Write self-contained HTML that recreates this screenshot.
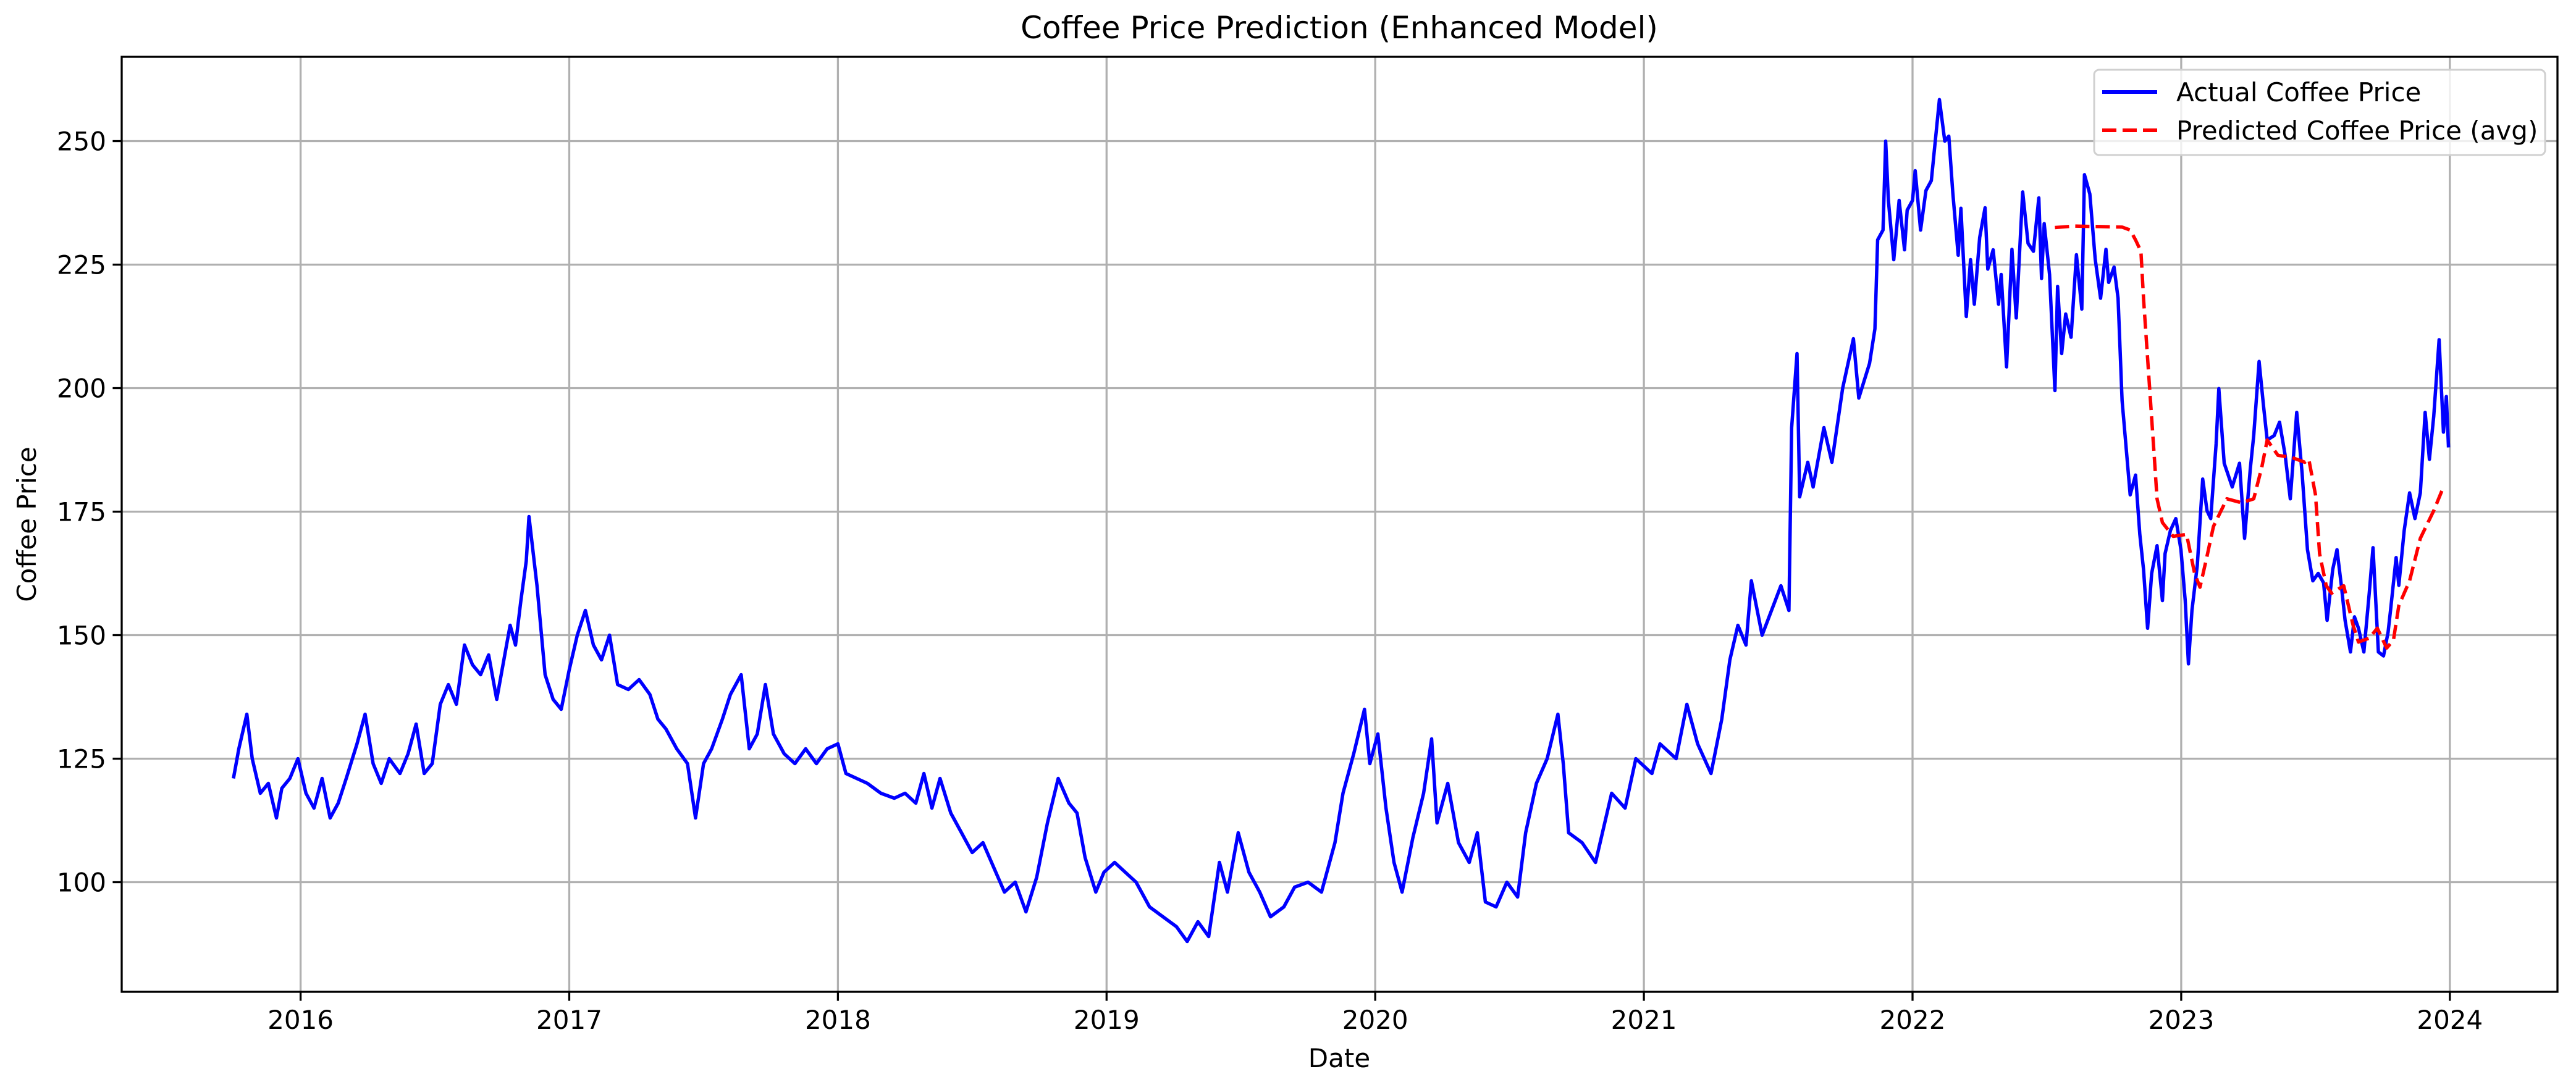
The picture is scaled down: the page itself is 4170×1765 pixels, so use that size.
<!DOCTYPE html>
<html><head><meta charset="utf-8"><style>
html,body{margin:0;padding:0;background:#fff;}
svg{display:block;font-family:"DejaVu Sans","Liberation Sans",sans-serif;}
</style></head><body>
<svg id="chart" width="4170" height="1765" viewBox="0 0 4170 1765" xmlns="http://www.w3.org/2000/svg">
<rect x="0" y="0" width="4170" height="1765" fill="#fff"/>
<g id="grid"></g>
<g id="series"></g>
<g id="axes"></g>
<text x="2168" y="62" font-size="50" text-anchor="middle">Coffee Price Prediction (Enhanced Model)</text>
<text x="2168" y="1728" font-size="42" text-anchor="middle">Date</text>
<text x="58" y="849" font-size="42" text-anchor="middle" transform="rotate(-90 58 849)">Coffee Price</text>
<g>
<rect x="3390" y="113" width="730" height="138" rx="8" fill="#fff" fill-opacity="0.8" stroke="#d0d0d0" stroke-width="3"/>
<line x1="3403" y1="149" x2="3492" y2="149" stroke="#0000ff" stroke-width="6"/>
<text x="3523" y="164" font-size="42">Actual Coffee Price</text>
<line x1="3403" y1="211" x2="3492" y2="211" stroke="#ff0000" stroke-width="6" stroke-dasharray="23,10"/>
<text x="3523" y="226" font-size="42">Predicted Coffee Price (avg)</text>
</g>
</svg>
<script>
const xTickLabels = ["2016","2017","2018","2019","2020","2021","2022","2023","2024"];
const xTickYears = [2016,2017,2018,2019,2020,2021,2022,2023,2024];
const yTickValues = [100,125,150,175,200,225,250];
const actualYears = [2015.75,2015.77,2015.80,2015.82,2015.85,2015.88,2015.91,2015.93,2015.96,2015.99,2016.02,2016.05,2016.08,2016.11,2016.14,2016.17,2016.21,2016.24,2016.27,2016.30,2016.33,2016.37,2016.40,2016.43,2016.46,2016.49,2016.52,2016.55,2016.58,2016.61,2016.64,2016.67,2016.70,2016.73,2016.76,2016.78,2016.80,2016.82,2016.84,2016.85,2016.88,2016.91,2016.94,2016.97,2017.00,2017.03,2017.06,2017.09,2017.12,2017.15,2017.18,2017.22,2017.26,2017.30,2017.33,2017.36,2017.40,2017.44,2017.47,2017.50,2017.53,2017.57,2017.60,2017.64,2017.67,2017.70,2017.73,2017.76,2017.80,2017.84,2017.88,2017.92,2017.96,2018.00,2018.03,2018.07,2018.11,2018.16,2018.21,2018.25,2018.29,2018.32,2018.35,2018.38,2018.42,2018.46,2018.50,2018.54,2018.58,2018.62,2018.66,2018.70,2018.74,2018.78,2018.82,2018.86,2018.89,2018.92,2018.96,2018.99,2019.03,2019.07,2019.11,2019.16,2019.21,2019.26,2019.30,2019.34,2019.38,2019.42,2019.45,2019.49,2019.53,2019.57,2019.61,2019.66,2019.70,2019.75,2019.80,2019.85,2019.88,2019.92,2019.96,2019.98,2020.01,2020.04,2020.07,2020.10,2020.14,2020.18,2020.21,2020.23,2020.27,2020.31,2020.35,2020.38,2020.41,2020.45,2020.49,2020.53,2020.56,2020.60,2020.64,2020.68,2020.70,2020.72,2020.77,2020.82,2020.88,2020.93,2020.97,2021.03,2021.06,2021.12,2021.16,2021.20,2021.25,2021.29,2021.32,2021.35,2021.38,2021.40,2021.44,2021.51,2021.54,2021.55,2021.57,2021.58,2021.61,2021.63,2021.67,2021.70,2021.74,2021.78,2021.80,2021.84,2021.86,2021.87,2021.89,2021.90,2021.91,2021.93,2021.95,2021.97,2021.98,2022.00,2022.01,2022.03,2022.05,2022.07,2022.10,2022.12,2022.135,2022.15,2022.17,2022.18,2022.20,2022.216,2022.23,2022.25,2022.27,2022.28,2022.30,2022.32,2022.33,2022.35,2022.37,2022.386,2022.40,2022.41,2022.43,2022.45,2022.47,2022.48,2022.49,2022.51,2022.53,2022.54,2022.555,2022.57,2022.59,2022.61,2022.63,2022.64,2022.66,2022.68,2022.70,2022.72,2022.73,2022.75,2022.765,2022.78,2022.79,2022.81,2022.83,2022.846,2022.86,2022.875,2022.89,2022.91,2022.93,2022.94,2022.96,2022.98,2022.999,2023.015,2023.027,2023.04,2023.06,2023.08,2023.096,2023.11,2023.13,2023.14,2023.16,2023.18,2023.19,2023.217,2023.236,2023.257,2023.27,2023.29,2023.306,2023.32,2023.346,2023.366,2023.387,2023.406,2023.43,2023.45,2023.47,2023.49,2023.51,2023.53,2023.543,2023.564,2023.58,2023.596,2023.61,2023.63,2023.645,2023.66,2023.68,2023.70,2023.714,2023.734,2023.753,2023.77,2023.78,2023.80,2023.81,2023.83,2023.85,2023.87,2023.89,2023.908,2023.924,2023.94,2023.96,2023.976,2023.987,2023.995];
const actualPrices = [121,127,134,125,118,120,113,119,121,125,118,115,121,113,116,121,128,134,124,120,125,122,126,132,122,124,136,140,136,148,144,142,146,137,146,152,148,157,165,174,160,142,137,135,143,150,155,148,145,150,140,139,141,138,133,131,127,124,113,124,127,133,138,142,127,130,140,130,126,124,127,124,127,128,122,121,120,118,117,118,116,122,115,121,114,110,106,108,103,98,100,94,101,112,121,116,114,105,98,102,104,102,100,95,93,91,88,92,89,104,98,110,102,98,93,95,99,100,98,108,118,126,135,124,130,115,104,98,109,118,129,112,120,108,104,110,96,95,100,97,110,120,125,134,124,110,108,104,118,115,125,122,128,125,136,128,122,133,145,152,148,161,150,160,155,192,207,178,185,180,192,185,200,210,198,205,212,230,232,250,238,226,238,228,236,238,244,232,240,242,258.4,250,251,239.5,226.9,236.4,214.5,226,217,230.5,236.5,224.1,228,217,223,204.3,228.1,214.2,229.3,239.7,229.3,227.7,238.5,222.2,233.3,223,199.5,220.6,207,215,210.3,227,216,243.2,239.3,226.1,218.2,228.1,221.4,224.5,218.2,197.5,191.1,178.4,182.4,170.4,163.2,151.4,162.5,168.1,157,166.5,171.2,173.6,167.3,157,144.2,155,164.2,181.6,175.2,173.6,188.7,199.9,184.8,181.6,180,184.8,169.6,183.6,190.4,205.4,196.6,189.5,190.4,193.1,186.4,177.6,195.1,182.8,167.3,161,162.5,160.6,153,163.3,167.3,160.1,153,146.6,153.7,151.4,146.6,158.5,167.7,146.6,145.8,150.6,155.4,165.7,160.1,171.2,178.8,173.6,178.8,195.1,185.6,194.3,209.8,191.1,198.3,188];
const predYears = [2022.53,2022.6,2022.7,2022.78,2022.81,2022.83,2022.85,2022.86,2022.88,2022.90,2022.91,2022.93,2022.97,2023.02,2023.05,2023.07,2023.095,2023.12,2023.17,2023.225,2023.27,2023.30,2023.32,2023.36,2023.41,2023.46,2023.475,2023.50,2023.515,2023.54,2023.56,2023.605,2023.64,2023.66,2023.70,2023.73,2023.765,2023.79,2023.81,2023.85,2023.89,2023.94,2023.97];
const predPrices = [232.5,232.8,232.7,232.6,232,230,227.7,218,202,186,177.6,172.8,170,170.4,162.5,159.7,165.7,172,177.6,176.8,177.6,184,189.5,186.4,186,185,185.6,178.4,166.5,160,158.5,160,152,148.6,149.4,151.4,147.4,149,156,161,169.6,175.2,179.2];

const NS = "http://www.w3.org/2000/svg";
const L = 197, R = 4140, T = 92, B = 1606;
function xScale(yr){ return 486.6 + (yr - 2016) * 434.9; }
function yScale(v){ return 228.5 + (250 - v) * 8.0; }
function mk(tag, attrs, parent){
  const e = document.createElementNS(NS, tag);
  for (const k in attrs) e.setAttribute(k, attrs[k]);
  parent.appendChild(e); return e;
}
const grid = document.getElementById('grid');
const axes = document.getElementById('axes');
const series = document.getElementById('series');

xTickYears.forEach((yr, i) => {
  const x = xScale(yr);
  const g = mk('line', {x1:x, y1:T, x2:x, y2:B, stroke:'#b0b0b0', 'stroke-width':3.3}, grid);
  
  
  const t = mk('line', {x1:x, y1:B, x2:x, y2:B+14.6, stroke:'#000', 'stroke-width':3.3}, axes);
  
  
  const lb = mk('text', {x:x, y:B+60, 'font-size':42, 'text-anchor':'middle'}, axes);
  lb.textContent = xTickLabels[i];
  
  
});
yTickValues.forEach(v => {
  const y = yScale(v);
  const g = mk('line', {x1:L, y1:y, x2:R, y2:y, stroke:'#b0b0b0', 'stroke-width':3.3}, grid);
  
  
  const t = mk('line', {x1:L-14.6, y1:y, x2:L, y2:y, stroke:'#000', 'stroke-width':3.3}, axes);
  
  
  const lb = mk('text', {x:L-25, y:y+15, 'font-size':42, 'text-anchor':'end'}, axes);
  lb.textContent = String(v);
  
  
});
const frame = mk('rect', {x:L, y:T, width:R-L, height:B-T, fill:'none', stroke:'#000', 'stroke-width':3.3}, axes);



let d1 = actualYears.map((yr,i)=>(i?'L':'M')+xScale(yr).toFixed(1)+','+yScale(actualPrices[i]).toFixed(1)).join('');
const a = mk('path', {d:d1, fill:'none', stroke:'#0000ff', 'stroke-width':5.5, 'stroke-linejoin':'round'}, series);


let d2 = predYears.map((yr,i)=>(i?'L':'M')+xScale(yr).toFixed(1)+','+yScale(predPrices[i]).toFixed(1)).join('');
const p = mk('path', {d:d2, fill:'none', stroke:'#ff0000', 'stroke-width':5.5, 'stroke-dasharray':'23,10', 'stroke-linejoin':'round'}, series);


</script>
</body></html>
